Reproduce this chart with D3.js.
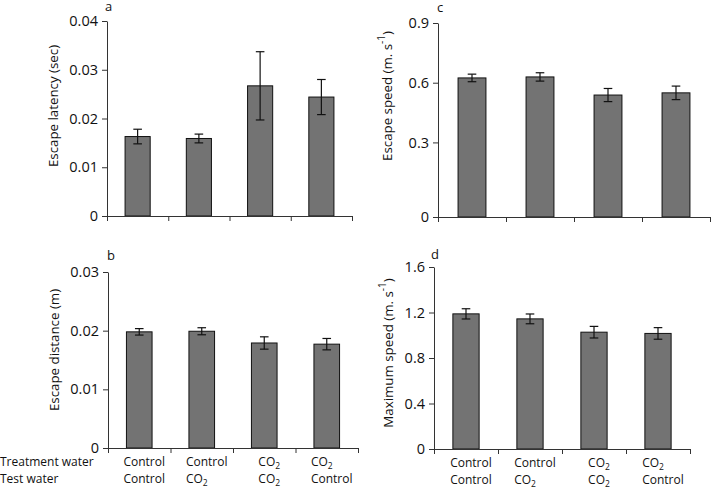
<!DOCTYPE html>
<html><head><meta charset="utf-8">
<script src="https://cdn.jsdelivr.net/npm/d3@7"></script>
<style>
html,body{margin:0;padding:0;background:#fff;}
svg{display:block;font-family:"Open Sans",sans-serif;}
</style></head>
<body><svg id="chart" width="711" height="487"></svg>
<script>
// ---------- data ----------
const treatmentWater = ["Control", "Control", "CO2", "CO2"];
const testWater      = ["Control", "CO2", "CO2", "Control"];

const latencyMean  = [0.0163, 0.0159, 0.0267, 0.0244];
const latencySE    = [0.0015, 0.0009, 0.0070, 0.0036];
const distanceMean = [0.0198, 0.0199, 0.0179, 0.0177];
const distanceSE   = [0.00055, 0.0006, 0.00105, 0.00097];
const speedMean    = [0.624, 0.629, 0.538, 0.549];
const speedSE      = [0.019, 0.021, 0.033, 0.034];
const maxSpeedMean = [1.188, 1.144, 1.027, 1.016];
const maxSpeedSE   = [0.045, 0.043, 0.051, 0.051];

const latencyTicks  = [0, 0.01, 0.02, 0.03, 0.04];
const distanceTicks = [0, 0.01, 0.02, 0.03];
const speedTicks    = [0, 0.3, 0.6, 0.9];
const maxSpeedTicks = [0, 0.4, 0.8, 1.2, 1.6];

const rowLabels = ["Treatment water", "Test water"];

// ---------- layout ----------
const svg = d3.select("#chart");
const BAR_FILL = "#737373";

function fmt(dec){ return d => d === 0 ? "0" : d3.format("." + dec + "f")(d); }

const panels = [
  {letter:"a", mean:latencyMean, se:latencySE, ticks:latencyTicks, fmt:fmt(2),
   x0:107, x1:352, yTop:21, yBot:216, title:["Escape latency (sec)"], titleX:53, titleY:106,
   letterX:105, letterY:11, labels:false},
  {letter:"b", mean:distanceMean, se:distanceSE, ticks:distanceTicks, fmt:fmt(2),
   x0:108, x1:358, yTop:272, yBot:448, title:["Escape distance (m)"], titleX:54, titleY:350,
   letterX:107, letterY:260, labels:true, rowLabels:true},
  {letter:"c", mean:speedMean, se:speedSE, ticks:speedTicks, fmt:fmt(1),
   x0:438, x1:710, yTop:23, yBot:217, title:["Escape speed (m. s", "-1", ")"], titleX:387, titleY:96,
   letterX:437, letterY:12, labels:false, piece:true},
  {letter:"d", mean:maxSpeedMean, se:maxSpeedSE, ticks:maxSpeedTicks, fmt:fmt(1),
   x0:434, x1:690, yTop:267, yBot:449, title:["Maximum speed (m. s", "-1", ")"], titleX:388, titleY:353,
   letterX:431, letterY:259, labels:true}
];

function co2Text(sel, label){
  if (label === "CO2") {
    sel.append("tspan").text("CO");
    sel.append("tspan").attr("font-size", "8.5px").attr("dy", 3).text("2");
  } else {
    sel.append("tspan").text(label);
  }
}

panels.forEach(p => {
  const g = svg.append("g");
  const idx = d3.range(p.mean.length);
  const x = d3.scaleBand().domain(idx).range([p.x0, p.x1]).paddingInner(0.59).paddingOuter(0.295);
  const xEdge = d3.scaleLinear().domain([0, p.mean.length]).range([p.x0, p.x1]);
  const maxT = d3.max(p.ticks);
  let y;
  if (p.piece) {
    const h = p.yBot - p.yTop;
    y = d3.scaleLinear().domain([0, 0.3, maxT]).range([p.yBot, p.yBot - 0.3845 * h, p.yTop]);
  } else {
    y = d3.scaleLinear().domain([0, maxT]).range([p.yBot, p.yTop]);
  }

  // bars
  g.selectAll("rect.bar").data(idx).join("rect")
    .attr("x", i => x(i)).attr("width", x.bandwidth())
    .attr("y", i => y(p.mean[i])).attr("height", i => y(0) - y(p.mean[i]))
    .attr("fill", BAR_FILL).attr("stroke", "#111").attr("stroke-width", 1);

  // error bars
  const cap = 4.3;
  idx.forEach(i => {
    const cx = x(i) + x.bandwidth() / 2;
    const hi = y(p.mean[i] + p.se[i]), lo = y(p.mean[i] - p.se[i]);
    g.append("line").attr("x1", cx).attr("x2", cx).attr("y1", hi).attr("y2", lo)
      .attr("stroke", "#111").attr("stroke-width", 1.2);
    [hi, lo].forEach(yy => g.append("line").attr("x1", cx - cap).attr("x2", cx + cap)
      .attr("y1", yy).attr("y2", yy).attr("stroke", "#111").attr("stroke-width", 1.2));
  });

  // y axis
  const ya = g.append("g").attr("transform", `translate(${p.x0},0)`)
    .call(d3.axisLeft(y).tickValues(p.ticks).tickFormat(p.fmt).tickSize(5).tickSizeOuter(0).tickPadding(4));
  ya.selectAll("path,line").attr("stroke", "#333");
  ya.selectAll("text").attr("font-size", "14.5px").attr("fill", "#111")
    .attr("font-family", "'Open Sans',sans-serif");

  // x axis (edge ticks)
  const xa = g.append("g").attr("transform", `translate(0,${p.yBot})`)
    .call(d3.axisBottom(xEdge).tickValues(d3.range(p.mean.length + 1)).tickFormat("").tickSize(5).tickSizeOuter(0));
  xa.selectAll("path,line").attr("stroke", "#333");

  // y title
  const tt = g.append("text")
    .attr("transform", `translate(${p.titleX},${p.titleY}) rotate(-90)`)
    .attr("text-anchor", "middle").attr("dominant-baseline", "central")
    .attr("font-size", "13.3px").attr("fill", "#111");
  tt.append("tspan").text(p.title[0]);
  if (p.title.length > 1) {
    tt.append("tspan").attr("dy", -6).attr("font-size", "10px").text(p.title[1]);
    tt.append("tspan").attr("dy", 6).text(p.title[2]);
  }

  // panel letter
  g.append("text").attr("x", p.letterX).attr("y", p.letterY)
    .attr("font-size", "13px").attr("fill", "#111").text(p.letter);

  // category labels
  if (p.labels) {
    const rowY = [p.yBot + 18, p.yBot + 35];
    idx.forEach(i => {
      const cx = x(i) + x.bandwidth() / 2 + 5;
      const lines = [treatmentWater[i], testWater[i]];
      const texts = lines.map((lab, r) => {
        const t = g.append("text").attr("y", rowY[r]).attr("font-size", "12px").attr("fill", "#111");
        co2Text(t, lab);
        return t;
      });
      const wmax = d3.max(texts, t => t.node().getComputedTextLength());
      texts.forEach(t => t.attr("x", cx - wmax / 2));
    });
    if (p.rowLabels) {
      rowLabels.forEach((lab, r) => g.append("text").attr("x", 0).attr("y", rowY[r])
        .attr("font-size", "12px").attr("fill", "#111").text(lab));
    }
  }
});
</script></body></html>
